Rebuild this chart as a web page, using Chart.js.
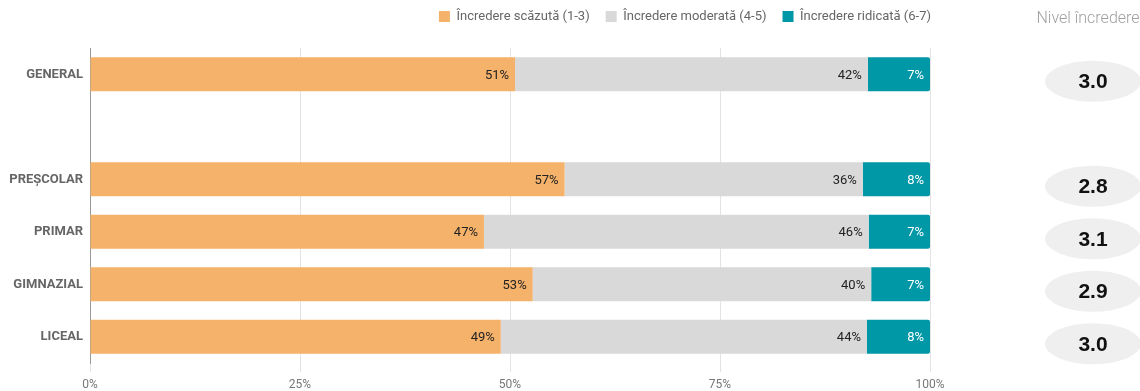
<!DOCTYPE html>
<html>
<head>
<meta charset="utf-8">
<script src="https://cdn.jsdelivr.net/npm/chart.js@4"></script>
<style>
  html, body { margin: 0; padding: 0; background: #fff; }
  #wrap { width: 1140px; height: 391px; position: relative; }
</style>
</head>
<body>
<div id="wrap"><canvas id="incredereChart"></canvas></div>
<script>
const categories = ['GENERAL', '', 'PREȘCOLAR', 'PRIMAR', 'GIMNAZIAL', 'LICEAL'];
const scazuta = [50.6, null, 56.5, 46.9, 52.7, 48.9];
const moderata = [42.0, null, 35.5, 45.8, 40.3, 43.6];
const ridicata = [7.4, null, 8.0, 7.3, 7.0, 7.5];
const nivel = [3.0, null, 2.8, 3.1, 2.9, 3.0];
const xTicks = [0, 25, 50, 75, 100];

const FONT = 'Roboto, "Noto Sans", sans-serif';

// a bit more room between the legend and the bars
const legendMargin = {
    id: 'legendMargin',
    beforeInit(chart) {
        const fit = chart.legend.fit;
        chart.legend.fit = function () {
            fit.bind(chart.legend)();
            this.height += 15;
        };
    }
};

// percentages written inside the bars, right-aligned at each segment end
const barLabels = {
    id: 'barLabels',
    afterDatasetsDraw(chart) {
        const ctx = chart.ctx;
        ctx.save();
        ctx.font = '13px ' + FONT;
        ctx.textAlign = 'right';
        ctx.textBaseline = 'middle';
        chart.data.datasets.forEach((ds, di) => {
            const meta = chart.getDatasetMeta(di);
            meta.data.forEach((bar, i) => {
                const v = ds.data[i];
                if (v == null) return;
                ctx.fillStyle = di === 2 ? '#ffffff' : '#222222';
                ctx.fillText(Math.round(v) + '%', bar.x - 6, bar.y + 1);
            });
        });
        ctx.restore();
    }
};

// right-hand column with the average confidence level
const nivelColumn = {
    id: 'nivelColumn',
    afterDraw(chart) {
        const ctx = chart.ctx;
        const y = chart.scales.y;
        ctx.save();
        ctx.font = '300 16px ' + FONT;
        ctx.fillStyle = '#a0a0a0';
        ctx.textAlign = 'center';
        ctx.textBaseline = 'middle';
        ctx.fillText('Nivel încredere', 1088, 19);
        nivel.forEach((v, i) => {
            if (v == null) return;
            const cy = y.getPixelForValue(i) + 7;
            ctx.fillStyle = '#efefef';
            ctx.beginPath();
            ctx.ellipse(1093, cy, 48, 20.5, 0, 0, Math.PI * 2);
            ctx.fill();
            ctx.fillStyle = '#111111';
            ctx.font = 'bold 21px "Liberation Sans", Arial, sans-serif';
            ctx.fillText(v.toFixed(1), 1093, cy + 1);
        });
        ctx.restore();
    }
};

new Chart(document.getElementById('incredereChart'), {
    type: 'bar',
    data: {
        labels: categories,
        datasets: [
            { label: 'Încredere scăzută (1-3)', data: scazuta, backgroundColor: '#F5B26B' },
            { label: 'Încredere moderată (4-5)', data: moderata, backgroundColor: '#D9D9D9' },
            { label: 'Încredere ridicată (6-7)', data: ridicata, backgroundColor: '#0097A7',
              borderRadius: { topRight: 2, bottomRight: 2 }, borderSkipped: false }
        ]
    },
    options: {
        indexAxis: 'y',
        responsive: true,
        maintainAspectRatio: false,
        animation: false,
        layout: { padding: { top: -6, right: 193, bottom: 0, left: 0 } },
        datasets: { bar: { categoryPercentage: 1, barPercentage: 0.65 } },
        plugins: {
            legend: {
                position: 'top',
                align: 'end',
                labels: {
                    color: '#666666',
                    boxWidth: 11,
                    boxHeight: 11,
                    padding: 16,
                    font: { family: FONT, size: 13 }
                }
            },
            tooltip: { enabled: false }
        },
        scales: {
            x: {
                stacked: true,
                min: 0,
                max: 100,
                afterBuildTicks: s => { s.ticks = xTicks.map(v => ({ value: v })); },
                afterFit: s => { s.height = 28; },
                ticks: {
                    color: '#777777',
                    font: { family: FONT, size: 12 },
                    callback: v => v + '%',
                    padding: 6
                },
                grid: { color: '#e3e3e3', tickLength: 9 },
                border: { display: false }
            },
            y: {
                stacked: true,
                afterFit: s => { s.width = 90; },
                ticks: {
                    color: '#666666',
                    font: { family: FONT, size: 13, weight: 'bold' },
                    padding: 7
                },
                grid: { display: false, drawTicks: false },
                border: { color: '#999999', width: 1 }
            },
            // empty spacer so the plot ends at 100% under the legend's right edge
            spacer: {
                type: 'linear',
                position: 'right',
                display: true,
                afterFit: s => { s.width = 17; },
                ticks: { display: false },
                grid: { display: false, drawTicks: false },
                border: { display: false }
            }
        }
    },
    plugins: [legendMargin, barLabels, nivelColumn]
});
</script>
</body>
</html>
